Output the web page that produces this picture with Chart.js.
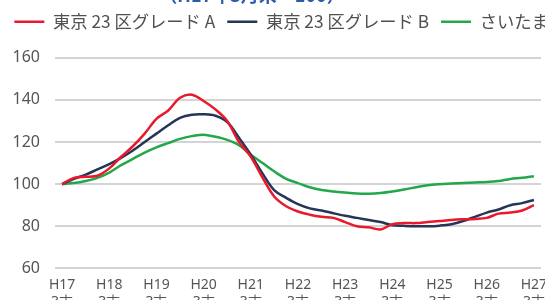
<!DOCTYPE html>
<html>
<head>
<meta charset="utf-8">
<script src="https://cdn.jsdelivr.net/npm/chart.js@4"></script>
<style>
  html, body { margin: 0; padding: 0; background: #fff; overflow: hidden; width: 545px; height: 300px; }
  #wrap { position: absolute; left: 0; top: -20px; width: 615px; height: 330px; }
</style>
</head>
<body>
<div id="wrap"><canvas id="chart"></canvas></div>
<script>
// quarterly index, H17 3末 = 100
let years = ['H17', 'H18', 'H19', 'H20', 'H21', 'H22', 'H23', 'H24', 'H25', 'H26', 'H27'];
let seriesNames = ['東京 23 区グレード A', '東京 23 区グレード B', 'さいたま新都心'];
let gradeA = [100, 103, 103.5, 104, 107.5, 113, 118, 124, 131, 135,
    141, 142.5, 139.5, 135.5, 130, 120, 113, 103, 94, 89.5,
    87, 85.5, 84.5, 84, 82, 80, 79.5, 78.5, 81, 81.5,
    81.5, 82, 82.5, 83, 83.3, 83.5, 84, 86, 86.5, 87.5, 90];
let gradeB = [100, 102.5, 104.5, 107, 109.5, 112.5, 116, 120, 124, 128,
    131.5, 133, 133.2, 132.5, 129.5, 122, 114, 105, 97, 93.5,
    90.5, 88.5, 87.5, 86.2, 85, 84, 83, 82, 80.5, 80.2,
    80, 80, 80.3, 81, 82.5, 84.5, 86.5, 88, 90, 91, 92.5];
let saitama = [100, 100.5, 101.5, 103, 105.5, 109, 112, 115, 117.5, 119.5,
    121.5, 122.8, 123.5, 122.5, 121, 118.5, 114, 110, 106, 102.5,
    100.5, 98.5, 97.2, 96.5, 96, 95.6, 95.5, 95.8, 96.5, 97.5,
    98.5, 99.5, 100, 100.3, 100.6, 100.8, 101, 101.5, 102.5, 103, 103.8];
let colors = ['#e8192c', '#253555', '#22a84a'];
let titleText = '（H17年3月末＝100）';

let values = [gradeA, gradeB, saitama];
let datasets = values.map(function (arr, k) {
    return {
        label: seriesNames[k],
        data: arr.map(function (v, i) { return {x: i, y: v}; }),
        borderColor: colors[k],
        backgroundColor: colors[k],
        borderWidth: 2.5,
        pointRadius: 0,
        tension: 0.35
    };
});

// extra room under the legend
let legendGap = {
    id: 'legendGap',
    beforeInit: function (chart) {
        let fit = chart.legend.fit;
        chart.legend.fit = function () {
            fit.bind(chart.legend)();
            this.height += 17.5;
        };
    }
};

// the cut-off heading sits left of centre, so draw it by hand
let headText = {
    id: 'headText',
    afterDraw: function (chart) {
        let c = chart.ctx;
        c.save();
        c.font = 'bold 18px "Noto Sans CJK JP"';
        c.fillStyle = '#2a5caa';
        c.textAlign = 'center';
        c.textBaseline = 'middle';
        c.fillText(titleText, 252, 15);
        c.restore();
    }
};

let ctx = document.getElementById('chart').getContext('2d');
let chart = new Chart(ctx, {
    type: 'line',
    data: {datasets: datasets},
    plugins: [legendGap, headText],
    options: {
        responsive: true,
        maintainAspectRatio: false,
        animation: false,
        layout: {padding: 0},
        plugins: {
            title: {
                display: true,
                text: titleText,
                color: 'rgba(0,0,0,0)',
                font: {family: 'Noto Sans CJK JP', size: 14, weight: 'bold', lineHeight: 1},
                padding: {top: 11, bottom: -4}
            },
            legend: {
                labels: {
                    usePointStyle: true,
                    pointStyle: 'line',
                    pointStyleWidth: 30,
                    color: '#505050',
                    font: {family: 'Noto Sans CJK JP', size: 17.3},
                    padding: 12
                }
            },
            tooltip: {enabled: false}
        },
        scales: {
            x: {
                type: 'linear',
                min: -0.6,
                max: 40.6,
                afterBuildTicks: function (scale) {
                    scale.ticks = years.map(function (y, i) { return {value: i * 4}; });
                },
                ticks: {
                    autoSkip: false,
                    maxRotation: 0,
                    padding: 0,
                    color: '#555',
                    font: {family: 'Noto Sans', size: 14},
                    callback: function (v) { return [years[v / 4], '3末']; }
                },
                grid: {display: false},
                border: {display: false}
            },
            y: {
                min: 60,
                max: 160,
                afterFit: function (s) { s.width = 55; },
                ticks: {
                    stepSize: 20,
                    color: '#555',
                    padding: 15,
                    font: {family: 'Noto Sans', size: 16}
                },
                grid: {color: '#d4d4d4', lineWidth: 2, drawTicks: false},
                border: {display: false}
            },
            right: {
                position: 'right',
                afterFit: function (s) { s.width = 74; },
                ticks: {display: false},
                grid: {display: false},
                border: {display: false}
            }
        }
    }
});
</script>
</body>
</html>
